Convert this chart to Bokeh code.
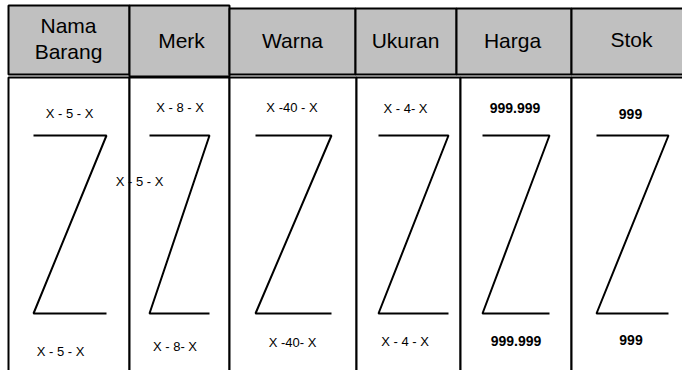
from bokeh.plotting import figure
from bokeh.models import Range1d, ColumnDataSource
from bokeh.core.properties import value
from bokeh.embed import file_html
from bokeh.resources import INLINE

# ---- data (table design sketch) ----
columns = ["Nama Barang", "Merk", "Warna", "Ukuran", "Harga", "Stok"]
header_lines = [["Nama", "Barang"], ["Merk"], ["Warna"], ["Ukuran"], ["Harga"], ["Stok"]]
top_labels = ["X - 5 - X", "X - 8 - X", "X -40 - X", "X - 4- X", "999.999", "999"]
bottom_labels = ["X - 5 - X", "X - 8- X", "X -40- X", "X - 4 - X", "999.999", "999"]
stray_label = "X - 5 - X"

# ---- layout (pixel coordinates of the sketch) ----
col_edges = [8, 129, 229, 356, 460, 571, 700]
head_edges = [8, 129, 229, 355, 456, 571, 700]
head_top = [5, 5, 8, 8, 8, 8]
head_bot = [74, 76, 74, 74, 74, 74]
body_top, body_bot = 77, 400
z_left = [33, 149, 255, 378, 482, 596]
z_right = [106, 209, 331, 448, 549, 668]
z_top, z_bot = 135, 313
head_x = [68, 181, 292, 405, 512, 631]
head_mid = [[24.5, 51], [40], [40], [40], [40], [39]]
top_x = [69, 179.5, 291.5, 405, 514.5, 630]
top_mid = [112.5, 107, 107, 108, 107, 113]
bot_x = [60, 174.5, 292, 404.5, 515.5, 630.5]
bot_mid = [350.5, 345.5, 341.5, 340.5, 340.5, 339]
label_size = ["13px", "13px", "13px", "13px", "14px", "14px"]
label_style = ["normal", "normal", "normal", "normal", "bold", "bold"]
stray_xy = (139, 180.5)

W, H = 682, 370
p = figure(width=W, height=H, output_backend="svg", toolbar_location=None,
           x_range=Range1d(0, W), y_range=Range1d(H, 0),
           x_axis_location=None, y_axis_location=None, min_border=0)
p.grid.visible = False
p.outline_line_color = None
p.background_fill_color = "white"

FONT = value("Liberation Sans")

# body cells
p.quad(left=col_edges[:-1], right=col_edges[1:], top=[body_top] * 6, bottom=[body_bot] * 6,
       fill_color="white", line_color="black", line_width=2)

# header cells
p.quad(left=head_edges[:-1], right=head_edges[1:], top=head_top, bottom=head_bot,
       fill_color="#c0c0c0", line_color="black", line_width=2)

# header texts
hx, hy, ht = [], [], []
for i, lines in enumerate(header_lines):
    for j, t in enumerate(lines):
        hx.append(head_x[i]); hy.append(head_mid[i][j]); ht.append(t)
p.text(x=hx, y=hy, text=ht, text_font=FONT, text_font_size="21px",
       text_align="center", text_baseline="middle", text_color="black")

# Z shapes
zx, zy = [], []
for i in range(len(columns)):
    zx.append([z_left[i], z_right[i], z_left[i], z_right[i]])
    zy.append([z_top, z_top, z_bot, z_bot])
p.multi_line(xs=zx, ys=zy, line_color="black", line_width=2)

# body labels
lab_src = ColumnDataSource(dict(
    x=top_x + bot_x + [stray_xy[0]],
    y=top_mid + bot_mid + [stray_xy[1]],
    text=top_labels + bottom_labels + [stray_label],
    size=label_size + label_size + ["13px"],
    style=label_style + label_style + ["normal"],
))
p.text(x="x", y="y", text="text", source=lab_src, text_font=FONT,
       text_font_size="size", text_font_style="style",
       text_align="center", text_baseline="middle", text_color="black")

open("out.html", "w").write(file_html(p, INLINE))
